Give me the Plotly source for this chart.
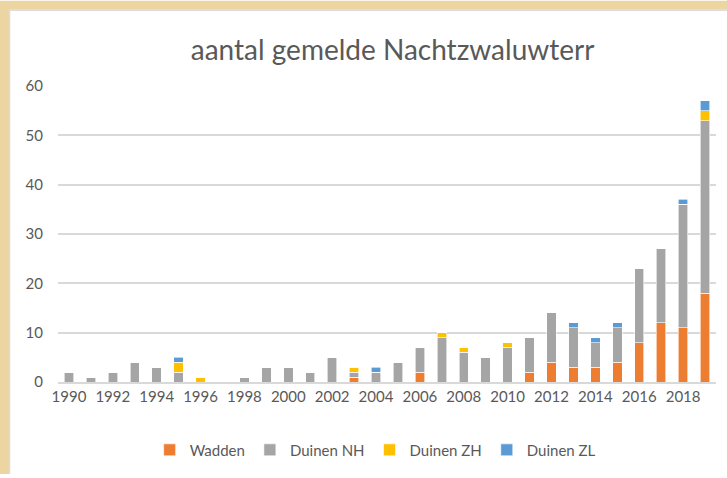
import plotly.graph_objects as go

years = list(range(1990, 2020))
wadden =    [0,0,0,0,0,0,0,0,0,0, 0,0,0,1,0,0,2,0,0,0, 0,2,4,3,3,4,8,12,11,18]
duinen_nh = [2,1,2,4,3,2,0,0,1,3, 3,2,5,1,2,4,5,9,6,5, 7,7,10,8,5,7,15,15,25,35]
duinen_zh = [0,0,0,0,0,2,1,0,0,0, 0,0,0,1,0,0,0,1,1,0, 1,0,0,0,0,0,0,0,0,2]
duinen_zl = [0,0,0,0,0,1,0,0,0,0, 0,0,0,0,1,0,0,0,0,0, 0,0,0,1,1,1,0,0,1,2]
tick_years = list(range(1990, 2019, 2))
y_ticks = [0, 10, 20, 30, 40, 50, 60]

series = [
    ("Wadden", wadden, "#ED7D31"),
    ("Duinen NH", duinen_nh, "#A5A5A5"),
    ("Duinen ZH", duinen_zh, "#FFC000"),
    ("Duinen ZL", duinen_zl, "#5B9BD5"),
]

fig = go.Figure()
for name, vals, col in series:
    fig.add_trace(go.Bar(x=years, y=vals, name=name,
                         marker=dict(color=col, line=dict(color="white", width=0.6))))

W, H, L, R, T, B = 727, 478, 58, 11, 86, 93
pw, ph = W - L - R, H - T - B
def px(x):
    return (x - L) / pw
def py(y):
    return (H - B - y) / ph

txt = "#595959"
tan = "#ECD5A1"
fig.update_layout(
    width=W, height=H,
    barmode="stack", bargap=0.57,
    paper_bgcolor="white", plot_bgcolor="rgba(0,0,0,0)",
    margin=dict(l=L, r=R, t=T, b=B),
    font=dict(family="Lato, Open Sans, sans-serif", color=txt, size=15),
    title=dict(text="aantal gemelde Nachtzwaluwterr", x=0.54, xanchor="center",
               y=1 - 50/478, yanchor="middle",
               font=dict(size=28, color=txt, family="Lato, Open Sans, sans-serif")),
    xaxis=dict(range=[1989.5, 2019.5], tickvals=tick_years, showgrid=False,
               showline=True, linecolor="#D9D9D9", linewidth=1.5, ticks="",
               tickfont=dict(size=15, color=txt), fixedrange=True),
    yaxis=dict(range=[0, 60], tickvals=y_ticks, showgrid=True, gridcolor="#D9D9D9",
               gridwidth=1.5, zeroline=False, ticks="", ticklabelstandoff=14,
               tickfont=dict(size=15, color=txt)),
    legend=dict(orientation="h", x=0.482, xanchor="center", y=-0.23, yanchor="middle",
                traceorder="normal",
                font=dict(size=15, color=txt), itemwidth=30),
    showlegend=True,
    shapes=[
        dict(type="path", xref="paper", yref="paper",
             path=f"M {px(0)},{py(0)} L {px(W)},{py(0)} L {px(W)},{py(9)} L {px(9)},{py(9)} "
                  f"L {px(9)},{py(H)} L {px(0)},{py(H)} Z",
             fillcolor=tan, line=dict(width=0), layer="below"),
        dict(type="line", xref="paper", yref="paper", x0=px(10), x1=px(W),
             y0=py(9.5), y1=py(9.5), line=dict(color="#DCDCDC", width=1.5), layer="below"),
        dict(type="line", xref="paper", yref="paper", x0=px(9.5), x1=px(9.5),
             y0=py(H), y1=py(9), line=dict(color="#DCDCDC", width=1.5), layer="below"),
    ],
)
fig.write_html("out.html", config={"displayModeBar": False},
               post_script="document.body.style.margin='0';document.body.style.overflow='hidden';")
